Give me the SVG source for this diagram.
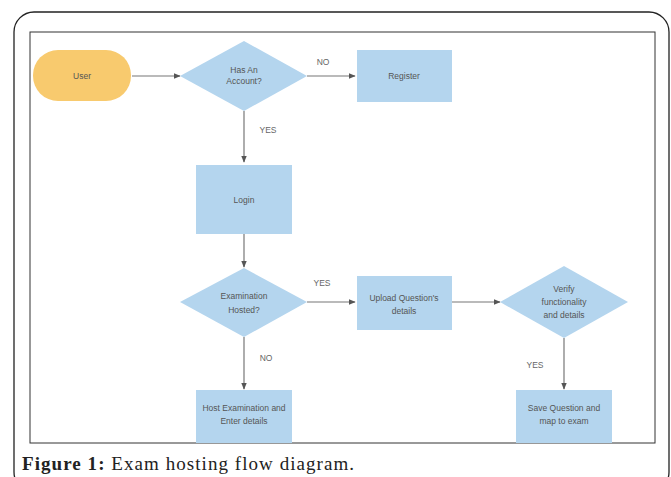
<svg xmlns="http://www.w3.org/2000/svg" width="671" height="477" viewBox="0 0 671 477">
<defs>
<marker id="arr" viewBox="0 0 10 10" refX="9" refY="5" markerWidth="7" markerHeight="7" orient="auto" markerUnits="userSpaceOnUse">
<path d="M0,1 L10,5 L0,9 z" fill="#555"/>
</marker>
<style>
.box{fill:#b4d5ee;}
.dia{fill:#b4d5ee;}
.t{font-family:"Liberation Sans",Arial,sans-serif;font-size:8.5px;fill:#555;text-anchor:middle;}
.lbl{font-family:"Liberation Sans",Arial,sans-serif;font-size:8.5px;fill:#666;text-anchor:middle;}
.c{stroke:#777;stroke-width:1.2;fill:none;marker-end:url(#arr);}
</style>
</defs>
<rect width="671" height="477" fill="#fff"/>
<rect x="14" y="12" width="655" height="480" rx="20" fill="none" stroke="#222" stroke-width="1.3"/>
<rect x="30" y="32" width="625" height="411" fill="none" stroke="#333" stroke-width="1"/>

<g id="connectors">
<line class="c" x1="132" y1="76" x2="180" y2="76"/>
<line class="c" x1="307" y1="76" x2="355" y2="76"/>
<line class="c" x1="244" y1="111" x2="244" y2="162"/>
<line class="c" x1="244" y1="234" x2="244" y2="267"/>
<line class="c" x1="307" y1="302" x2="355" y2="302"/>
<line class="c" x1="452" y1="302" x2="500" y2="302"/>
<line class="c" x1="244" y1="337" x2="244" y2="389"/>
<line class="c" x1="564" y1="338" x2="564" y2="389"/>
<text class="lbl" x="323" y="65">NO</text>
<text class="lbl" x="268" y="133">YES</text>
<text class="lbl" x="322" y="286">YES</text>
<text class="lbl" x="266" y="361">NO</text>
<text class="lbl" x="535" y="368">YES</text>
</g>

<g id="user">
<rect x="33" y="50" width="98" height="51" rx="25" fill="#f8ca6e"/>
<text class="t" x="82" y="79">User</text>
</g>
<g id="has-account">
<polygon class="dia" points="244,41 307,76 244,111 180,76"/>
<text class="t" x="244" y="73">Has An</text>
<text class="t" x="244" y="84">Account?</text>
</g>
<g id="register">
<rect class="box" x="357" y="50" width="95" height="52"/>
<text class="t" x="404" y="79">Register</text>
</g>
<g id="login">
<rect class="box" x="196" y="165" width="96" height="69"/>
<text class="t" x="244" y="203">Login</text>
</g>
<g id="exam-hosted">
<polygon class="dia" points="244,268 307,302 244,337 180,302"/>
<text class="t" x="244" y="299">Examination</text>
<text class="t" x="244" y="313">Hosted?</text>
</g>
<g id="upload">
<rect class="box" x="357" y="276" width="95" height="54"/>
<text class="t" x="404" y="301">Upload Question's</text>
<text class="t" x="404" y="314">details</text>
</g>
<g id="verify">
<polygon class="dia" points="564,266 628,302 564,338 500,302"/>
<text class="t" x="564" y="292">Verify</text>
<text class="t" x="564" y="305">functionality</text>
<text class="t" x="564" y="318">and details</text>
</g>
<g id="host-exam">
<rect class="box" x="196" y="390" width="96" height="53"/>
<text class="t" x="244" y="411">Host Examination and</text>
<text class="t" x="244" y="424">Enter details</text>
</g>
<g id="save-question">
<rect class="box" x="516" y="390" width="96" height="53"/>
<text class="t" x="564" y="411">Save Question and</text>
<text class="t" x="564" y="424">map to exam</text>
</g>

<text x="22" y="470" font-family="Liberation Serif,'Times New Roman',serif" font-size="19" fill="#222" textLength="332" lengthAdjust="spacing"><tspan font-weight="bold">Figure 1:</tspan> Exam hosting flow diagram.</text>
</svg>
